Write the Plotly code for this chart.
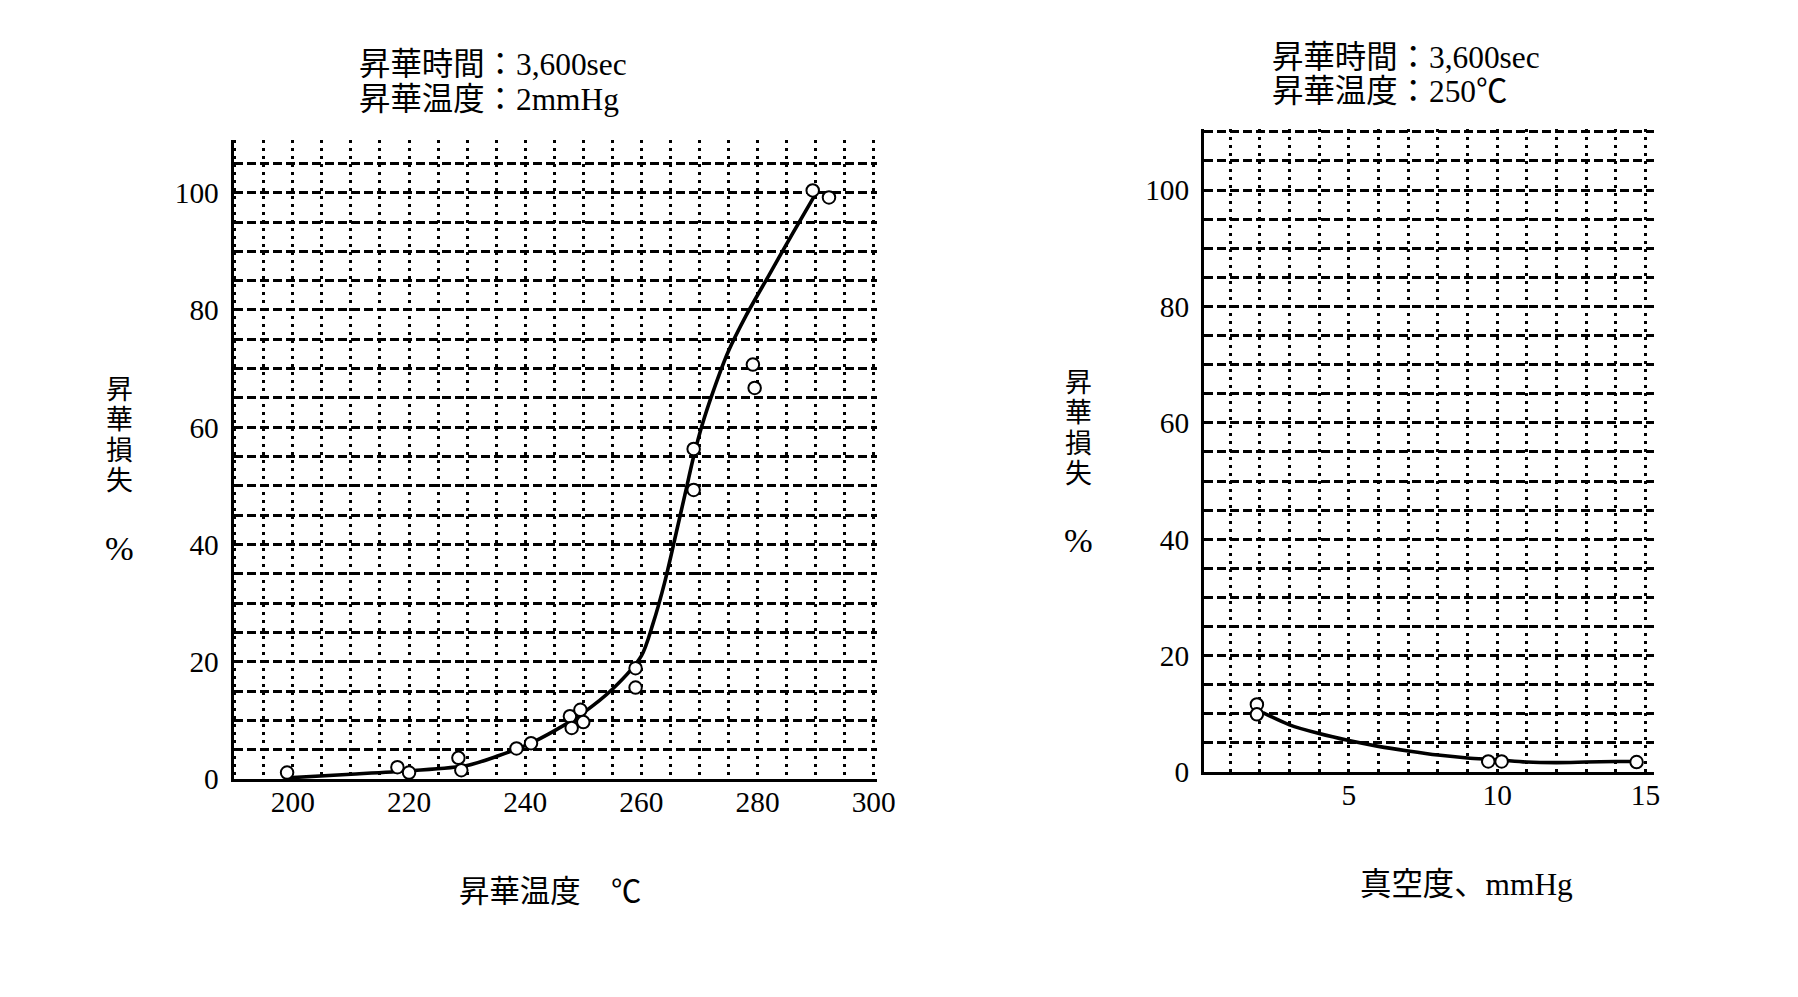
import plotly.graph_objects as go

# ---------------- data: left chart (sublimation temperature) ----------------
temp_pts = [199, 218, 220, 228.5, 229, 238.5, 241, 247.7, 248, 249.5, 250,
            259, 259, 269, 269, 279.2, 279.5, 289.5, 292.3]
loss_pts = [1.1, 2.0, 1.1, 3.6, 1.5, 5.2, 6.1, 10.7, 8.7, 11.8, 9.7,
            18.9, 15.6, 56.3, 49.3, 70.7, 66.7, 100.4, 99.2]
temp_curve = [199.2, 210, 220, 230, 235.5, 240.5, 245, 250, 255, 260, 262,
              264, 266, 267.5, 269, 270.5, 272.5, 275, 278, 282, 286, 290]
loss_curve = [0.2, 0.8, 1.4, 2.3, 4.0, 5.9, 8.2, 11.3, 15.3, 21.0, 26.5,
              33.5, 42.0, 48.5, 55.0, 60.5, 66.5, 73.0, 79.0, 86.0, 93.0, 99.8]
temp_ticks = [200, 220, 240, 260, 280, 300]

# ---------------- data: right chart (vacuum) ----------------
vac_pts = [1.9, 1.9, 9.7, 10.15, 14.7]
vac_loss_pts = [11.6, 9.9, 1.8, 1.8, 1.7]
vac_curve = [2.1, 3, 4, 5, 6, 7, 8, 9, 10, 11, 12, 13, 14, 14.7]
vac_loss_curve = [10.2, 8.1, 6.6, 5.4, 4.4, 3.6, 2.9, 2.4, 2.1, 1.7, 1.6, 1.7, 1.8, 1.8]
vac_ticks = [5, 10, 15]
loss_ticks = [0, 20, 40, 60, 80, 100]

W, H = 1798, 997
SX, SY = 0.991, 0.984          # observed render scale compensation
FS = 0.987
SERIF = "Liberation Serif, Noto Sans CJK JP"


def px(x):
    return x / SX / W


def py(y):
    return 1 - (y / SY) / H


def fs(s):
    return s / FS


fig = go.Figure()

line_style = dict(color="black", width=3.6, shape="spline", smoothing=0.8)
marker_style = dict(symbol="circle", size=12.5, color="white",
                    line=dict(color="black", width=2))

fig.add_trace(go.Scatter(x=temp_curve, y=loss_curve, mode="lines",
                         line=line_style, xaxis="x", yaxis="y", showlegend=False))
fig.add_trace(go.Scatter(x=temp_pts, y=loss_pts, mode="markers",
                         marker=marker_style, xaxis="x", yaxis="y", showlegend=False))
fig.add_trace(go.Scatter(x=vac_curve, y=vac_loss_curve, mode="lines",
                         line=line_style, xaxis="x2", yaxis="y2", showlegend=False))
fig.add_trace(go.Scatter(x=vac_pts, y=vac_loss_pts, mode="markers",
                         marker=marker_style, xaxis="x2", yaxis="y2", showlegend=False))

tickfont = dict(family=SERIF, size=fs(29), color="black")
VDASH = "3px,5px"
HDASH = "9px,4px"


def xax(domain, rng, tickvals, minor_dtick, anchor):
    return dict(domain=domain, range=rng, tickmode="array", tickvals=tickvals,
                ticks="", ticklen=0, ticklabelstandoff=-5, tickfont=tickfont,
                showline=True, linecolor="black", linewidth=3,
                zeroline=False, anchor=anchor,
                showgrid=True, gridcolor="black", gridwidth=2.5, griddash=VDASH,
                minor=dict(dtick=minor_dtick, showgrid=True, gridcolor="black",
                           gridwidth=2.5, griddash=VDASH, ticks=""))


def yax(domain, rng, anchor):
    return dict(domain=domain, range=rng, tickmode="array", tickvals=loss_ticks,
                ticks="", ticklen=0, ticklabelstandoff=6, tickfont=tickfont,
                showline=True, linecolor="black", linewidth=3,
                zeroline=False, anchor=anchor,
                showgrid=True, gridcolor="black", gridwidth=2.5, griddash=HDASH,
                minor=dict(dtick=5, showgrid=True, gridcolor="black",
                           gridwidth=2.5, griddash=HDASH, ticks=""))


fig.update_layout(
    width=W, height=H,
    margin=dict(l=0, r=0, t=0, b=0),
    paper_bgcolor="white", plot_bgcolor="white",
    xaxis=xax([px(234), px(878)], [189.8, 300.5], temp_ticks, 5, "y"),
    yaxis=yax([py(779), py(140)], [0, 109], "x"),
    xaxis2=xax([px(1206), px(1657)], [0.12, 15.3], vac_ticks, 1, "y2"),
    yaxis2=yax([py(772), py(129)], [0, 110.5], "x2"),
)

ann = []


def txt(x, y, s, size, family=SERIF, xanchor="center"):
    ann.append(dict(x=px(x), y=py(y), xref="paper", yref="paper", text=s,
                    showarrow=False, xanchor=xanchor, yanchor="middle",
                    font=dict(family=family, size=fs(size), color="black")))


# header blocks
txt(358, 65, "昇華時間：3,600sec", 31, xanchor="left")
txt(358, 100, "昇華温度：2mmHg", 31, xanchor="left")
txt(1272, 58, "昇華時間：3,600sec", 31, xanchor="left")
txt(1272, 92, "昇華温度：250℃", 31, xanchor="left")

# axis titles
txt(551, 892, "昇華温度　℃", 30)
txt(1469, 885, "真空度、mmHg", 31)

ytitle = ["昇", "華", "損", "失"]
for i, ch in enumerate(ytitle):
    txt(120, 390 + i * 30.3, ch, 26.5)
    txt(1080, 383 + i * 30.5, ch, 26.5)
txt(120, 548, "%", 34)
txt(1080, 540, "%", 34)

fig.update_layout(annotations=ann)
fig.write_html("out.html")
